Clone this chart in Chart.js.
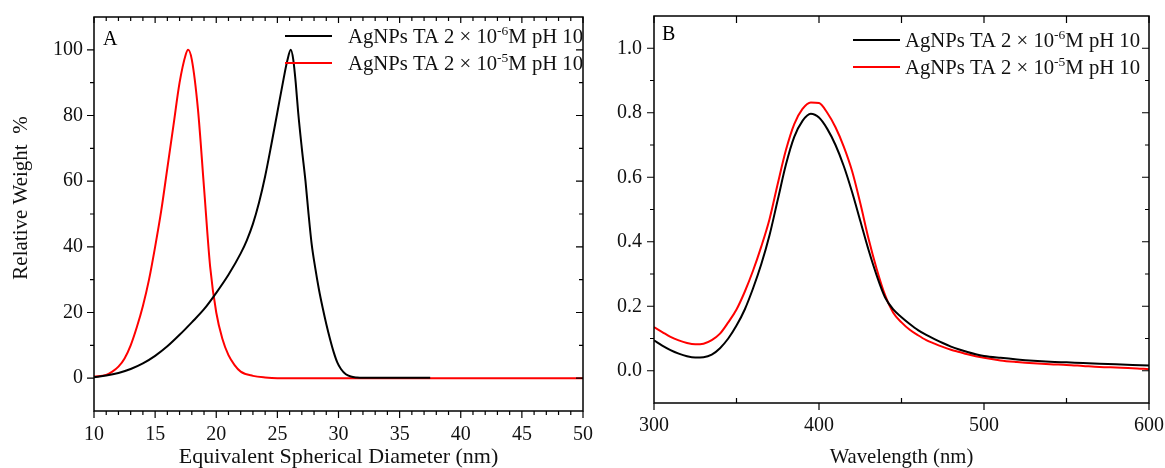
<!DOCTYPE html>
<html>
<head>
<meta charset="utf-8">
<script src="https://cdn.jsdelivr.net/npm/chart.js@4"></script>
<style>
  body { margin: 0; background: #fff; }
  #wrap { position: relative; width: 1165px; height: 468px; }
  #chartA { position: absolute; left: 0; top: 0; }
  #chartB { position: absolute; left: 600px; top: 0; }
</style>
</head>
<body>
<div id="wrap">
  <canvas id="chartA" width="600" height="468"></canvas>
  <canvas id="chartB" width="565" height="468"></canvas>
</div>
<script>
// series names ("^" marks the superscript part)
var seriesNames = ['AgNPs TA 2 × 10^-6^M pH 10', 'AgNPs TA 2 × 10^-5^M pH 10'];

// panel A : size distribution
var aBlackX = [10, 11, 12, 13, 14, 15, 16, 17, 18, 19, 20, 21, 22, 22.5, 23, 23.5, 24, 24.5, 25, 25.5, 25.8, 26.1, 26.3, 26.5, 26.7, 27, 27.3, 27.55, 27.8, 28.1, 28.4, 28.7, 29, 29.3, 29.6, 29.9, 30.2, 30.6, 31, 31.5, 32, 34, 37.5];
var aBlackY = [0.3, 0.8, 1.6, 2.8, 4.5, 6.8, 9.7, 13.2, 17, 21, 26, 31.5, 38, 42, 47, 53.5, 61.5, 71, 81, 91, 96.5, 100, 97, 90, 81, 70, 60, 50, 41, 33.5, 27, 21.5, 16.5, 12, 8, 4.8, 2.8, 1.2, 0.5, 0.2, 0.1, 0.1, 0.1];
var aRedX = [10, 11, 11.5, 12, 12.5, 13, 13.5, 14, 14.5, 15, 15.5, 16, 16.5, 17, 17.5, 17.7, 18, 18.5, 19, 19.5, 20, 20.5, 21, 21.5, 22, 23, 24, 25, 50];
var aRedY = [0.5, 1, 2, 3.5, 6, 10, 15.5, 22, 30, 40, 51, 64, 77, 90, 98.5, 100, 97, 82, 58, 34, 20, 12, 7, 4, 2, 0.7, 0.2, 0, 0];
var aXTicks = [10, 15, 20, 25, 30, 35, 40, 45, 50];
var aXMinor = [11, 12, 13, 14, 16, 17, 18, 19, 21, 22, 23, 24, 26, 27, 28, 29, 31, 32, 33, 34, 36, 37, 38, 39, 41, 42, 43, 44, 46, 47, 48, 49];
var aYTicks = [0, 20, 40, 60, 80, 100];
var aYMinor = [10, 30, 50, 70, 90];

// panel B : UV-Vis spectra
var bWave = [300, 305, 310, 315, 320, 325, 330, 335, 340, 345, 350, 355, 360, 365, 370, 375, 380, 385, 390, 395, 400, 405, 410, 415, 420, 425, 430, 435, 440, 445, 450, 455, 460, 465, 470, 475, 480, 485, 490, 495, 500, 510, 520, 530, 540, 550, 560, 570, 580, 590, 600];
var bBlack = [0.094, 0.078, 0.064, 0.053, 0.045, 0.041, 0.042, 0.05, 0.07, 0.1, 0.14, 0.19, 0.255, 0.33, 0.42, 0.53, 0.64, 0.725, 0.775, 0.797, 0.785, 0.75, 0.7, 0.635, 0.555, 0.465, 0.375, 0.295, 0.228, 0.19, 0.166, 0.145, 0.126, 0.111, 0.098, 0.086, 0.075, 0.066, 0.058, 0.051, 0.046, 0.04, 0.035, 0.031, 0.028, 0.026, 0.024, 0.022, 0.02, 0.018, 0.016];
var bRed = [0.135, 0.12, 0.105, 0.094, 0.086, 0.082, 0.084, 0.095, 0.115, 0.15, 0.19, 0.245, 0.31, 0.385, 0.47, 0.58, 0.685, 0.765, 0.812, 0.832, 0.83, 0.8, 0.755, 0.695, 0.62, 0.52, 0.41, 0.315, 0.235, 0.18, 0.15, 0.127, 0.11, 0.095, 0.084, 0.074, 0.065, 0.058, 0.051, 0.045, 0.04, 0.032, 0.027, 0.023, 0.02, 0.018, 0.015, 0.012, 0.01, 0.008, 0.005];
var bXTicks = [300, 400, 500, 600];
var bXMinor = [350, 450, 550];
var bYTicks = [0, 0.2, 0.4, 0.6, 0.8, 1.0];
var bYMinor = [0.1, 0.3, 0.5, 0.7, 0.9];

var FONT = 'Liberation Serif';

function pts(xs, ys) {
  return xs.map(function (x, i) { return { x: x, y: ys[i] }; });
}

// frame box plus major / minor tick marks on all four sides
var frameTicks = {
  id: 'frameTicks',
  afterDraw: function (chart, args, o) {
    var ctx = chart.ctx, a = chart.chartArea;
    var xs = chart.scales.x, ys = chart.scales.y;
    ctx.save();
    ctx.strokeStyle = '#000';
    ctx.lineWidth = 1.5;
    ctx.strokeRect(a.left, a.top, a.right - a.left, a.bottom - a.top);
    ctx.lineWidth = 1.2;
    ctx.beginPath();
    o.sides.forEach(function (s) {
      s.values.forEach(function (v) {
        if (s.side == 'bottom' || s.side == 'top') {
          var px = xs.getPixelForValue(v);
          var y0 = s.side == 'bottom' ? a.bottom : a.top;
          var dir = (s.side == 'bottom') == s.out ? 1 : -1;
          ctx.moveTo(px, y0);
          ctx.lineTo(px, y0 + dir * s.len);
        } else {
          var py = ys.getPixelForValue(v);
          var x0 = s.side == 'left' ? a.left : a.right;
          var d = (s.side == 'right') == s.out ? 1 : -1;
          ctx.moveTo(x0, py);
          ctx.lineTo(x0 + d * s.len, py);
        }
      });
    });
    ctx.stroke();

    // panel letter
    ctx.fillStyle = '#000';
    ctx.font = '20px "' + FONT + '"';
    ctx.textBaseline = 'alphabetic';
    ctx.fillText(o.letter, a.left + o.letterDx, a.top + o.letterDy);

    // y axis title (sits a bit above the middle of the axis)
    if (o.yTitle) {
      ctx.translate(o.yTitleX, o.yTitleY);
      ctx.rotate(-Math.PI / 2);
      ctx.font = '21px "' + FONT + '"';
      ctx.fillStyle = '#111';
      ctx.textAlign = 'center';
      ctx.textBaseline = 'middle';
      ctx.fillText(o.yTitle, 0, 0);
    }
    ctx.restore();
  }
};

// legend inside the plot, with superscripts
var supLegend = {
  id: 'supLegend',
  afterDraw: function (chart, args, o) {
    var ctx = chart.ctx;
    ctx.save();
    ctx.textBaseline = 'alphabetic';
    chart.data.datasets.forEach(function (ds, i) {
      var y = o.y + i * o.gap;
      ctx.strokeStyle = ds.borderColor;
      ctx.lineWidth = 2;
      ctx.beginPath();
      ctx.moveTo(o.x0, y);
      ctx.lineTo(o.x1, y);
      ctx.stroke();
      var parts = ds.label.split('^');
      var x = o.tx;
      ctx.fillStyle = '#111';
      parts.forEach(function (p, k) {
        if (k % 2 == 1) {
          ctx.font = '13.5px "' + FONT + '"';
          ctx.fillText(p, x, y + 7 - 8);
        } else {
          ctx.font = '20.7px "' + FONT + '"';
          ctx.fillText(p, x, y + 7);
        }
        x += ctx.measureText(p).width;
      });
    });
    ctx.restore();
  }
};

function tickFont() {
  return { family: FONT, size: 20 };
}

// keep the plot area where the layout padding puts it
function noLabelPad(s) {
  s.paddingLeft = 0;
  s.paddingRight = 0;
  s.paddingTop = 0;
  s.paddingBottom = 0;
}

var chartA = new Chart(document.getElementById('chartA'), {
  type: 'line',
  data: {
    datasets: [
      { label: seriesNames[0], data: pts(aBlackX, aBlackY), borderColor: '#000000', borderWidth: 2, pointRadius: 0, cubicInterpolationMode: 'monotone' },
      { label: seriesNames[1], data: pts(aRedX, aRedY), borderColor: '#ff0000', borderWidth: 2, pointRadius: 0, cubicInterpolationMode: 'monotone' }
    ]
  },
  options: {
    responsive: false,
    animation: false,
    layout: { padding: { top: 17, right: 17, left: 0, bottom: 0 } },
    plugins: {
      legend: { display: false },
      tooltip: { enabled: false },
      frameTicks: {
        letter: 'A', letterDx: 9, letterDy: 28,
        yTitle: 'Relative Weight  %', yTitleX: 21, yTitleY: 198,
        sides: [
          { side: 'bottom', values: aXTicks, len: 7, out: true },
          { side: 'bottom', values: aXMinor, len: 4, out: true },
          { side: 'top', values: aXTicks, len: 6, out: false },
          { side: 'top', values: aXMinor, len: 4, out: false },
          { side: 'left', values: aYTicks, len: 7, out: true },
          { side: 'left', values: aYMinor, len: 4, out: true },
          { side: 'right', values: aYTicks, len: 7, out: false },
          { side: 'right', values: aYMinor, len: 4, out: false }
        ]
      },
      supLegend: { x0: 285, x1: 332, tx: 348, y: 36, gap: 27 }
    },
    scales: {
      x: {
        type: 'linear', min: 10, max: 50,
        grid: { display: false, drawTicks: false },
        border: { display: false },
        afterBuildTicks: function (s) { s.ticks = aXTicks.map(function (v) { return { value: v }; }); },
        afterFit: function (s) { s.height = 57; noLabelPad(s); },
        ticks: { font: tickFont(), color: '#111', padding: 12, maxRotation: 0 },
        title: { display: true, text: 'Equivalent Spherical Diameter (nm)', font: { family: FONT, size: 22 }, color: '#111', padding: { bottom: -2 } }
      },
      y: {
        min: -10, max: 110,
        grid: { display: false, drawTicks: false },
        border: { display: false },
        afterBuildTicks: function (s) { s.ticks = aYTicks.map(function (v) { return { value: v }; }); },
        afterFit: function (s) { s.width = 94; noLabelPad(s); },
        ticks: { font: tickFont(), color: '#111', padding: 11 }
      }
    }
  },
  plugins: [frameTicks, supLegend]
});

var chartB = new Chart(document.getElementById('chartB'), {
  type: 'line',
  data: {
    datasets: [
      { label: seriesNames[0], data: pts(bWave, bBlack), borderColor: '#000000', borderWidth: 2, pointRadius: 0, cubicInterpolationMode: 'monotone' },
      { label: seriesNames[1], data: pts(bWave, bRed), borderColor: '#ff0000', borderWidth: 2, pointRadius: 0, cubicInterpolationMode: 'monotone' }
    ]
  },
  options: {
    responsive: false,
    animation: false,
    layout: { padding: { top: 16, right: 16, left: 0, bottom: 0 } },
    plugins: {
      legend: { display: false },
      tooltip: { enabled: false },
      frameTicks: {
        letter: 'B', letterDx: 8, letterDy: 24,
        sides: [
          { side: 'bottom', values: bXTicks, len: 7, out: true },
          { side: 'bottom', values: bXMinor, len: 5, out: false },
          { side: 'top', values: bXTicks, len: 7, out: false },
          { side: 'top', values: bXMinor, len: 7, out: false },
          { side: 'left', values: bYTicks, len: 7, out: true },
          { side: 'left', values: bYMinor, len: 4, out: true },
          { side: 'right', values: bYTicks, len: 7, out: false },
          { side: 'right', values: bYMinor, len: 4, out: false }
        ]
      },
      supLegend: { x0: 253, x1: 300, tx: 305, y: 40, gap: 27 }
    },
    scales: {
      x: {
        type: 'linear', min: 300, max: 600,
        grid: { display: false, drawTicks: false },
        border: { display: false },
        afterBuildTicks: function (s) { s.ticks = bXTicks.map(function (v) { return { value: v }; }); },
        afterFit: function (s) { s.height = 65; noLabelPad(s); },
        ticks: { font: tickFont(), color: '#111', padding: 11, maxRotation: 0 },
        title: { display: true, text: 'Wavelength (nm)', font: { family: FONT, size: 20.7 }, color: '#111', padding: { bottom: -2 } }
      },
      y: {
        min: -0.1, max: 1.1,
        grid: { display: false, drawTicks: false },
        border: { display: false },
        afterBuildTicks: function (s) { s.ticks = bYTicks.map(function (v) { return { value: v }; }); },
        afterFit: function (s) { s.width = 54; noLabelPad(s); },
        ticks: { font: tickFont(), color: '#111', padding: 12, callback: function (v) { return v.toFixed(1); } }
      }
    }
  },
  plugins: [frameTicks, supLegend]
});
</script>
</body>
</html>
